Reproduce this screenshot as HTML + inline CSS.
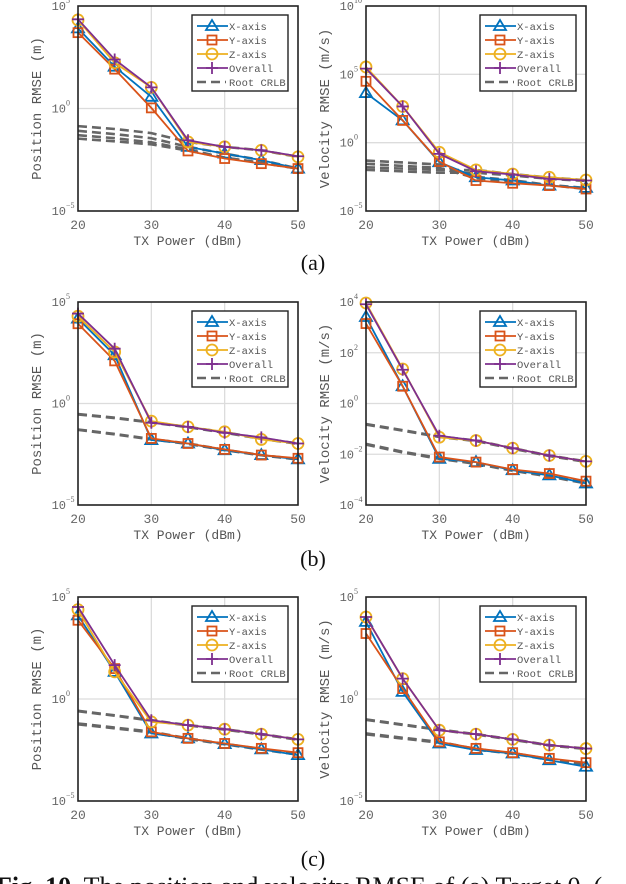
<!DOCTYPE html>
<html><head><meta charset="utf-8"><style>
html,body{margin:0;padding:0;background:#fff;width:626px;height:884px;overflow:hidden}
svg{display:block}
text{font-family:"Liberation Serif","Noto Serif CJK SC",serif}
.mono{font-family:"Liberation Mono","Noto Sans CJK SC",monospace}
</style></head><body>
<svg id="fig" width="626" height="884" viewBox="0 0 626 884" xmlns="http://www.w3.org/2000/svg"></svg>
<script>
// Data: log10 of RMSE at each TX power
const txPower = [20, 25, 30, 35, 40, 45, 50];
const seriesNames = ["X-axis", "Y-axis", "Z-axis", "Overall"];
// (a) position
const aPosX = [3.91, 2.04, 0.57, -1.87, -2.2, -2.52, -2.93];
const aPosY = [3.7, 1.92, 0.03, -2.07, -2.44, -2.69, -2.93];
const aPosZ = [4.32, 2.23, 1.03, -1.63, -1.87, -2.04, -2.36];
const aPosO = [4.35, 2.39, 1.03, -1.55, -1.87, -2.04, -2.33];
const aPosCrlbX = [-1.09, -1.25, -1.45, -1.87, -2.2, -2.52, -2.93];
const aPosCrlbY = [-1.3, -1.45, -1.65, -2.0, -2.4, -2.65, -2.93];
const aPosCrlbZ = [-0.86, -1.0, -1.2, -1.63, -1.87, -2.04, -2.36];
const aPosCrlbO = [-1.47, -1.6, -1.75, -2.05, -2.4, -2.65, -2.93];
// (a) velocity
const aVelX = [3.63, 1.63, -1.43, -2.53, -2.77, -3.14, -3.31];
const aVelY = [4.49, 1.63, -1.38, -2.77, -2.97, -3.14, -3.39];
const aVelZ = [5.54, 2.65, -0.7, -1.99, -2.29, -2.53, -2.73];
const aVelO = [5.42, 2.65, -0.82, -2.09, -2.33, -2.65, -2.77];
const aVelCrlbX = [-1.31, -1.45, -1.6, -2.5, -2.75, -3.1, -3.31];
const aVelCrlbY = [-1.55, -1.7, -1.85, -2.6, -2.9, -3.1, -3.39];
const aVelCrlbZ = [-1.8, -1.9, -2.0, -2.0, -2.3, -2.55, -2.75];
const aVelCrlbO = [-1.99, -2.1, -2.2, -2.2, -2.4, -2.65, -2.8];
// (b) position
const bPosX = [4.18, 2.38, -1.8, -1.97, -2.3, -2.54, -2.75];
const bPosY = [3.93, 2.1, -1.72, -1.97, -2.26, -2.54, -2.7];
const bPosZ = [4.3, 2.54, -0.87, -1.15, -1.39, -1.77, -1.97];
const bPosO = [4.43, 2.7, -0.95, -1.15, -1.44, -1.67, -1.97];
const bPosCrlbX = [-1.28, -1.5, -1.75, -1.97, -2.28, -2.54, -2.74];
const bPosCrlbY = [-1.3, -1.52, -1.77, -1.99, -2.3, -2.55, -2.76];
const bPosCrlbZ = [-0.52, -0.7, -0.92, -1.15, -1.42, -1.72, -1.97];
const bPosCrlbO = [-0.54, -0.72, -0.94, -1.17, -1.44, -1.74, -1.99];
// (b) velocity
const bVelX = [3.41, 0.68, -2.18, -2.31, -2.63, -2.83, -3.15];
const bVelY = [3.15, 0.68, -2.11, -2.31, -2.6, -2.76, -3.06];
const bVelZ = [3.96, 1.36, -1.33, -1.46, -1.76, -2.05, -2.28];
const bVelO = [3.91, 1.33, -1.27, -1.46, -1.76, -2.05, -2.28];
const bVelCrlbX = [-1.59, -1.9, -2.15, -2.35, -2.62, -2.85, -3.12];
const bVelCrlbY = [-1.62, -1.93, -2.18, -2.38, -2.65, -2.88, -3.15];
const bVelCrlbZ = [-0.81, -1.05, -1.3, -1.46, -1.76, -2.05, -2.28];
const bVelCrlbO = [-0.83, -1.07, -1.32, -1.48, -1.78, -2.07, -2.3];
// (c) position
const cPosX = [4.1, 1.33, -1.69, -1.93, -2.21, -2.47, -2.75];
const cPosY = [3.86, 1.49, -1.61, -1.93, -2.18, -2.42, -2.63];
const cPosZ = [4.38, 1.33, -1.12, -1.28, -1.48, -1.72, -1.98];
const cPosO = [4.51, 1.66, -1.04, -1.28, -1.48, -1.72, -1.98];
const cPosCrlbX = [-1.2, -1.4, -1.6, -1.93, -2.2, -2.45, -2.7];
const cPosCrlbY = [-1.24, -1.44, -1.64, -1.96, -2.22, -2.48, -2.73];
const cPosCrlbZ = [-0.58, -0.8, -1.04, -1.28, -1.48, -1.72, -1.98];
const cPosCrlbO = [-0.6, -0.82, -1.06, -1.3, -1.5, -1.74, -2.0];
// (c) velocity
const cVelX = [3.78, 0.35, -2.18, -2.5, -2.67, -3.0, -3.32];
const cVelY = [3.21, 0.51, -2.1, -2.42, -2.63, -2.91, -3.12];
const cVelZ = [4.02, 1.0, -1.53, -1.72, -1.98, -2.26, -2.43];
const cVelO = [4.02, 1.0, -1.53, -1.72, -1.98, -2.26, -2.43];
const cVelCrlbX = [-1.69, -1.9, -2.1, -2.45, -2.65, -2.95, -3.2];
const cVelCrlbY = [-1.73, -1.94, -2.14, -2.48, -2.68, -2.98, -3.23];
const cVelCrlbZ = [-1.0, -1.25, -1.5, -1.72, -1.98, -2.26, -2.43];
const cVelCrlbO = [-1.02, -1.27, -1.52, -1.74, -2.0, -2.28, -2.45];
const xTicks = [20, 30, 40, 50];
const posYTicks = [-5, 0, 5];
const velYTicksA = [-5, 0, 5, 10];
const velYTicksB = [-4, -2, 0, 2, 4];
const velYTicksC = [-5, 0, 5];
const panelLabels = ["(a)", "(b)", "(c)"];

const colors = ["#0072BD", "#D95319", "#EDB120", "#7E2F8E"];
const NS = "http://www.w3.org/2000/svg";
const svg = document.getElementById("fig");
function mk(tag, attrs, parent) {
  const e = document.createElementNS(NS, tag);
  for (const k in attrs) e.setAttribute(k, attrs[k]);
  (parent || svg).appendChild(e);
  return e;
}
function marker(g, i, x, y) {
  const c = colors[i];
  let m;
  if (i === 0) m = mk("polygon", {points: `${x},${y-6} ${x-6},${y+4} ${x+6},${y+4}`, fill: "none", stroke: c, "stroke-width": 1.8}, g);
  else if (i === 1) m = mk("rect", {x: x-4.5, y: y-4.5, width: 9, height: 9, fill: "none", stroke: c, "stroke-width": 1.8}, g);
  else if (i === 2) m = mk("circle", {cx: x, cy: y, r: 5.5, fill: "none", stroke: c, "stroke-width": 1.8}, g);
  else m = mk("path", {d: `M${x-6},${y}H${x+6}M${x},${y-6}V${y+6}`, stroke: c, "stroke-width": 1.8}, g);
  
  
}
function panel(id, L, T, W, H, ymin, ymax, yticks, ylabel, series, crlb) {
  const g = mk("g", {});
  
  
  const xs = v => L + (v - 20) / 30 * W;
  const ys = v => T + (ymax - v) / (ymax - ymin) * H;
  xTicks.forEach(t => {
    if (t > 20 && t < 50) mk("line", {x1: xs(t), x2: xs(t), y1: T, y2: T + H, stroke: "#dcdcdc", "stroke-width": 1.3}, g);
    const tl = mk("text", {x: xs(t), y: T + H + 18, "text-anchor": "middle", "font-size": 13, fill: "#666", class: "mono"}, g);
    tl.textContent = t;
    
    
  });
  yticks.forEach(t => {
    if (t > ymin && t < ymax) mk("line", {x1: L, x2: L + W, y1: ys(t), y2: ys(t), stroke: "#dcdcdc", "stroke-width": 1.3}, g);
    const tl = mk("text", {x: L - 12, y: ys(t) + 4, "text-anchor": "end", "font-size": 12, fill: "#666", class: "mono"}, g);
    tl.textContent = "10";
    
    
    const ex = mk("text", {x: L - 12, y: ys(t) - 3, "text-anchor": "start", "font-size": 8, fill: "#666"}, g);
    ex.textContent = t < 0 ? "\u2212" + (-t) : t;
  });
  const xl = mk("text", {x: L + W / 2, y: T + H + 34, "text-anchor": "middle", "font-size": 13, fill: "#555", class: "mono"}, g);
  xl.textContent = "TX Power (dBm)";
  
  
  const yl = mk("text", {x: 0, y: 0, transform: `translate(${L - 37},${T + H / 2}) rotate(-90)`, "text-anchor": "middle", "font-size": 14, fill: "#555", class: "mono"}, g);
  yl.textContent = ylabel;
  
  
  crlb.forEach(arr => {
    const p = mk("polyline", {points: arr.map((v, k) => xs(txPower[k]) + "," + ys(v)).join(" "), fill: "none", stroke: "#666", "stroke-width": 2.6, "stroke-dasharray": "9,5"}, g);
    
    
  });
  series.forEach((arr, i) => {
    const p = mk("polyline", {points: arr.map((v, k) => xs(txPower[k]) + "," + ys(v)).join(" "), fill: "none", stroke: colors[i], "stroke-width": 1.8}, g);
    
    
    arr.forEach((v, k) => marker(g, i, xs(txPower[k]), ys(v)));
  });
  mk("rect", {x: L, y: T, width: W, height: H, fill: "none", stroke: "#222", "stroke-width": 1.6}, g);
  const lg = mk("g", {}, g);
  
  
  const lx = L + 114, ly = T + 9;
  mk("rect", {x: lx, y: ly, width: 96, height: 76, fill: "#fff", stroke: "#222", "stroke-width": 1.4}, lg);
  const names = ["X-axis", "Y-axis", "Z-axis", "Overall", "Root CRLB"];
  names.forEach((n, i) => {
    const yy = ly + 11 + i * 14;
    const e = mk("g", {}, lg);
    
    
    if (i < 4) {
      mk("line", {x1: lx + 5, x2: lx + 36, y1: yy, y2: yy, stroke: colors[i], "stroke-width": 1.8}, e);
      marker(e, i, lx + 20, yy);
    } else {
      mk("line", {x1: lx + 5, x2: lx + 34, y1: yy, y2: yy, stroke: "#666", "stroke-width": 2.6, "stroke-dasharray": "9,5"}, e);
    }
    const t = mk("text", {x: lx + 37, y: yy + 4, "font-size": 10.5, fill: "#555", class: "mono"}, e);
    t.textContent = n;
  });
}
const rows = [{T: 6, H: 205}, {T: 302, H: 203}, {T: 597, H: 204}];
panel("position-chart-a", 78, rows[0].T, 220, rows[0].H, -5, 5, posYTicks, "Position RMSE (m)", [aPosX, aPosY, aPosZ, aPosO], [aPosCrlbX, aPosCrlbY, aPosCrlbZ, aPosCrlbO]);
panel("velocity-chart-a", 366, rows[0].T, 220, rows[0].H, -5, 10, velYTicksA, "Velocity RMSE (m/s)", [aVelX, aVelY, aVelZ, aVelO], [aVelCrlbX, aVelCrlbY, aVelCrlbZ, aVelCrlbO]);
panel("position-chart-b", 78, rows[1].T, 220, rows[1].H, -5, 5, posYTicks, "Position RMSE (m)", [bPosX, bPosY, bPosZ, bPosO], [bPosCrlbX, bPosCrlbY, bPosCrlbZ, bPosCrlbO]);
panel("velocity-chart-b", 366, rows[1].T, 220, rows[1].H, -4, 4, velYTicksB, "Velocity RMSE (m/s)", [bVelX, bVelY, bVelZ, bVelO], [bVelCrlbX, bVelCrlbY, bVelCrlbZ, bVelCrlbO]);
panel("position-chart-c", 78, rows[2].T, 220, rows[2].H, -5, 5, posYTicks, "Position RMSE (m)", [cPosX, cPosY, cPosZ, cPosO], [cPosCrlbX, cPosCrlbY, cPosCrlbZ, cPosCrlbO]);
panel("velocity-chart-c", 366, rows[2].T, 220, rows[2].H, -5, 5, velYTicksC, "Velocity RMSE (m/s)", [cVelX, cVelY, cVelZ, cVelO], [cVelCrlbX, cVelCrlbY, cVelCrlbZ, cVelCrlbO]);
const labelY = [270, 566, 866];
panelLabels.forEach((s, i) => {
  const t = mk("text", {x: 313, y: labelY[i], "text-anchor": "middle", "font-size": 22, fill: "#111"});
  t.textContent = s;
  
  
});
const cap = mk("text", {x: -4, y: 895, "font-size": 26, fill: "#111"});


const b = mk("tspan", {"font-weight": "bold"}, cap);
b.textContent = "Fig. 10.";
const r = mk("tspan", {}, cap);
r.textContent = " The position and velocity RMSE of (a) Target 0, (";
</script>
</body></html>
